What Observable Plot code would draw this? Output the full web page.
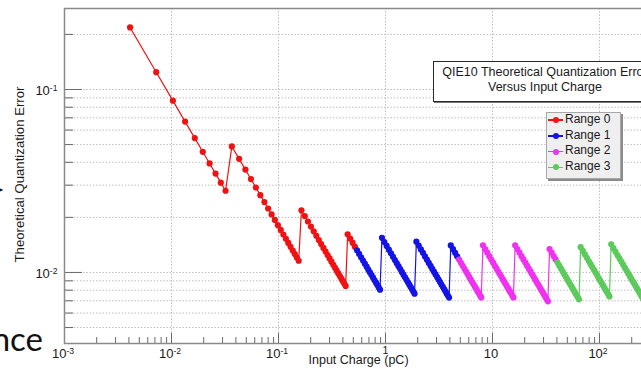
<!DOCTYPE html>
<html>
<head>
<meta charset="utf-8">
<script src="https://cdn.jsdelivr.net/npm/d3@7"></script>
<script src="https://cdn.jsdelivr.net/npm/@observablehq/plot@0.6"></script>
<style>
  html, body { margin: 0; padding: 0; overflow: hidden; background: #fff; width: 641px; height: 373px; }
  #wrap { position: relative; width: 641px; height: 373px; overflow: hidden; font-family: "Liberation Sans", Arial, sans-serif; }
  #chart { position: absolute; left: 0; top: 0; max-width: none !important; width: 726px; height: 373px; }
  .titlebox { position: absolute; left: 433px; top: 61px; width: 222px; padding: 3px 0 6px 0; border: 1px solid #2a2a2a; background: #fff; text-align: center; font-size: 12.5px; line-height: 15px; color: #1a1a1a; white-space: nowrap; box-shadow: 1px 1px 0 #777; }
  .legend { position: absolute; left: 546px; top: 112px; width: 73px; height: 65px; border: 1px solid #a8a8a8; background: #efefef; box-shadow: 2px 2px 0 #8c8c8c; }
  .legend .row { position: absolute; left: 0; height: 14px; width: 73px; }
  .legend .ln { position: absolute; left: 1px; width: 15px; height: 1.5px; }
  .legend .dt { position: absolute; left: 6px; width: 6px; height: 6px; border-radius: 50%; }
  .legend .lb { position: absolute; left: 18px; font-size: 12px; line-height: 14px; color: #1a1a1a; white-space: nowrap; }
  .slide { position: absolute; font-family: Lato, "Open Sans", sans-serif; color: #111; white-space: nowrap; }
</style>
</head>
<body>
<div id="wrap"></div>
<script>
// ---- Data ----
const rangeNames = ["Range 0", "Range 1", "Range 2", "Range 3"];
const rangeColors = ["#f01212", "#1414e6", "#f032f0", "#5cca5c"];

// Range 0 (red): input charge in pC and theoretical quantization error
const range0Charge = [
  0.0041, 0.0072, 0.0103, 0.0134, 0.0165, 0.0196, 0.0227, 0.0258, 0.0289, 0.0320,
  0.03665, 0.04285, 0.04905, 0.05525, 0.06145, 0.06765, 0.07385, 0.08005, 0.08625, 0.09245,
  0.09865, 0.10485, 0.11105, 0.11725, 0.12345, 0.12965, 0.13585, 0.14205, 0.14825, 0.15445,
  0.16375, 0.17615, 0.18855, 0.20095, 0.21335, 0.22575, 0.23815, 0.25055, 0.26295, 0.27535, 0.28775,
  0.30015, 0.31255, 0.32495, 0.33735, 0.34975, 0.36215, 0.37455, 0.38695, 0.39935, 0.41175, 0.42415,
  0.44275, 0.46755, 0.49235, 0.51715
];
const range0Error = [
  0.2183, 0.1243, 0.08688, 0.06678, 0.05424, 0.04566, 0.03942, 0.03469, 0.03097, 0.02797,
  0.04883, 0.04177, 0.03649, 0.03239, 0.02913, 0.02646, 0.02424, 0.02236, 0.02075, 0.01936,
  0.01814, 0.01707, 0.01612, 0.01526, 0.01450, 0.01380, 0.01317, 0.01260, 0.01207, 0.01159,
  0.02186, 0.02032, 0.01899, 0.01781, 0.01678, 0.01586, 0.01503, 0.01429, 0.01361, 0.01300, 0.01244,
  0.01193, 0.01145, 0.01102, 0.01061, 0.01023, 0.00988, 0.00956, 0.00925, 0.00896, 0.00869, 0.00844,
  0.01617, 0.01531, 0.01454, 0.01384
];

// Range 1 (blue)
const range1Charge = [
  0.54195, 0.56675, 0.59155, 0.61635, 0.64115, 0.66595, 0.69075, 0.71555, 0.74035, 0.76515,
  0.78995, 0.81475, 0.83955, 0.86435, 0.88915,
  0.92635, 0.97595, 1.02555, 1.07515, 1.12475, 1.17435, 1.22395, 1.27355, 1.32315, 1.37275,
  1.42235, 1.47195, 1.52155, 1.57115, 1.62075, 1.67035, 1.71995, 1.76955, 1.81915, 1.86875,
  1.94315, 2.04235, 2.14155, 2.24075, 2.33995, 2.43915, 2.53835, 2.63755, 2.73675, 2.83595, 2.93515,
  3.03435, 3.13355, 3.23275, 3.33195, 3.43115, 3.53035, 3.62955, 3.72875, 3.82795, 3.92715,
  4.07595, 4.27435, 4.47275, 4.67115
];
const range1Error = [
  0.01321, 0.01263, 0.01210, 0.01162, 0.01117, 0.01075, 0.01036, 0.01001, 0.00967, 0.00936,
  0.00906, 0.00879, 0.00853, 0.00828, 0.00805,
  0.01546, 0.01467, 0.01396, 0.01332, 0.01273, 0.01219, 0.01170, 0.01124, 0.01082, 0.01043,
  0.01007, 0.00973, 0.00941, 0.00911, 0.00883, 0.00857, 0.00832, 0.00809, 0.00787, 0.00766,
  0.01474, 0.01402, 0.01337, 0.01278, 0.01224, 0.01174, 0.01128, 0.01086, 0.01046, 0.01010, 0.00976,
  0.00944, 0.00914, 0.00886, 0.00859, 0.00835, 0.00811, 0.00789, 0.00768, 0.00748, 0.00729,
  0.01405, 0.01340, 0.01281, 0.01226
];

// Range 2 (magenta)
const range2Charge = [
  4.86955, 5.06795, 5.26635, 5.46475, 5.66315, 5.86155, 6.05995, 6.25835, 6.45675, 6.65515,
  6.85355, 7.05195, 7.25035, 7.44875, 7.64715, 7.84555,
  8.14315, 8.53995, 8.93675, 9.33355, 9.73035, 10.12715, 10.52395, 10.92075, 11.31755, 11.71435,
  12.11115, 12.50795, 12.90475, 13.30155, 13.69835, 14.09515, 14.49195, 14.88875, 15.28555, 15.68235,
  16.27755, 17.07115, 17.86475, 18.65835, 19.45195, 20.24555, 21.03915, 21.83275, 22.62635, 23.41995, 24.21355,
  25.00715, 25.80075, 26.59435, 27.38795, 28.18155, 28.97515, 29.76875, 30.56235, 31.35595, 32.14955, 32.94315,
  34.13355, 35.72075, 37.30795, 38.89515
];
const range2Error = [
  0.01176, 0.01130, 0.01088, 0.01048, 0.01011, 0.00977, 0.00945, 0.00915, 0.00887, 0.00861,
  0.00836, 0.00812, 0.00790, 0.00769, 0.00749, 0.00730,
  0.01407, 0.01341, 0.01282, 0.01227, 0.01177, 0.01131, 0.01088, 0.01049, 0.01012, 0.00978,
  0.00946, 0.00916, 0.00888, 0.00861, 0.00836, 0.00813, 0.00790, 0.00769, 0.00749, 0.00730,
  0.01407, 0.01342, 0.01282, 0.01228, 0.01178, 0.01132, 0.01089, 0.01049, 0.01013, 0.00978, 0.00946,
  0.00916, 0.00888, 0.00861, 0.00837, 0.00813, 0.00791, 0.00770, 0.00750, 0.00731, 0.00713, 0.00695,
  0.01342, 0.01283, 0.01228, 0.01178
];

// Range 3 (green)
const range3Charge = [
  40.48235, 42.06955, 43.65675, 45.24395, 46.83115, 48.41835, 50.00555, 51.59275, 53.17995, 54.76715,
  56.35435, 57.94155, 59.52875, 61.11595, 62.70315, 64.29035,
  66.67155, 69.84595, 73.02035, 76.19475, 79.36915, 82.54355, 85.71795, 88.89235, 92.06675, 95.24115,
  98.41555, 101.58995, 104.76435, 107.93875, 111.11315, 114.28755, 117.46195, 120.63635, 123.81075,
  128.57315, 134.92195, 141.27075, 147.61955, 153.96835, 160.31715, 166.66595, 173.01475, 179.36355,
  185.71235, 192.06115, 198.40995, 204.75875, 211.10755, 217.45635, 223.80515, 230.15395, 236.50275,
  242.85155, 249.20035, 255.54915
];
const range3Error = [
  0.01132, 0.01089, 0.01050, 0.01013, 0.00978, 0.00946, 0.00916, 0.00888, 0.00862, 0.00837,
  0.00813, 0.00791, 0.00770, 0.00750, 0.00731, 0.00713,
  0.01374, 0.01312, 0.01255, 0.01203, 0.01155, 0.01110, 0.01069, 0.01031, 0.00995, 0.00962,
  0.00931, 0.00902, 0.00875, 0.00849, 0.00825, 0.00802, 0.00780, 0.00760, 0.00740,
  0.01426, 0.01358, 0.01297, 0.01242, 0.01190, 0.01143, 0.01100, 0.01059, 0.01022,
  0.00987, 0.00954, 0.00924, 0.00895, 0.00868, 0.00843, 0.00819, 0.00796, 0.00775,
  0.00755, 0.00735, 0.00717
];

// Axes
const xDomain = [1e-3, 1e3];
const yDomain = [0.00409, 0.2771];
const xMajorTicks = [1e-3, 1e-2, 1e-1, 1, 10, 100, 1000];
const xLabelTicks = [1e-3, 1e-2, 1e-1, 1, 10, 100];
const xTickLabels = ["10^-3", "10^-2", "10^-1", "1", "10", "10^2"];
const xMinorTicks = [
  2e-3, 3e-3, 4e-3, 5e-3, 6e-3, 7e-3, 8e-3, 9e-3,
  2e-2, 3e-2, 4e-2, 5e-2, 6e-2, 7e-2, 8e-2, 9e-2,
  0.2, 0.3, 0.4, 0.5, 0.6, 0.7, 0.8, 0.9,
  2, 3, 4, 5, 6, 7, 8, 9,
  20, 30, 40, 50, 60, 70, 80, 90,
  200, 300, 400, 500, 600, 700, 800, 900
];
const yMajorTicks = [0.1, 0.01];
const yTickLabels = ["10^-1", "10^-2"];
const yMinorTicks = [0.005, 0.006, 0.007, 0.008, 0.009, 0.02, 0.03, 0.04, 0.05, 0.06, 0.07, 0.08, 0.09, 0.2];
const xTitle = "Input Charge (pC)";
const yTitle = "Theoretical Quantization Error";
const titleLines = ["QIE10 Theoretical Quantization Error", "Versus Input Charge"];

// ---- Build table ----
const seriesData = [
  [range0Charge, range0Error],
  [range1Charge, range1Error],
  [range2Charge, range2Error],
  [range3Charge, range3Error]
];
const rows = seriesData.flatMap(([c, e], i) => c.map((q, j) => ({range: rangeNames[i], q, err: e[j]})));
const xLabelRows = xLabelTicks.map((v, i) => ({v, label: xTickLabels[i]}));
const yLabelRows = yMajorTicks.map((v, i) => ({v, label: yTickLabels[i]}));
const gridStyle = {stroke: "#c2c2c2", strokeDasharray: "1.6,1.6", strokeWidth: 1};

const chart = Plot.plot({
  width: 726,
  height: 373,
  marginLeft: 64,
  marginRight: 20,
  marginTop: 8,
  marginBottom: 30,
  x: {type: "log", domain: xDomain, axis: null},
  y: {type: "log", domain: yDomain, axis: null},
  color: {domain: rangeNames, range: rangeColors},
  style: {fontFamily: "'Liberation Sans', Arial, sans-serif", background: "#fff", color: "#1a1a1a", maxWidth: "none"},
  marks: [
    Plot.ruleY(yMinorTicks.concat(yMajorTicks), {y: d => d, ...gridStyle}),
    Plot.ruleX(xMajorTicks, {x: d => d, ...gridStyle}),
    Plot.tickX(xMinorTicks, {x: d => d, stroke: "#6a6a6a", insetTop: 329}),
    Plot.tickX(xMajorTicks, {x: d => d, stroke: "#6a6a6a", insetTop: 325}),
    Plot.tickY(yMinorTicks, {y: d => d, stroke: "#6a6a6a", insetRight: 633}),
    Plot.tickY(yMajorTicks, {y: d => d, stroke: "#6a6a6a", insetRight: 624}),
    Plot.line(rows, {x: "q", y: "err", z: "range", stroke: "range", strokeWidth: 1.2}),
    Plot.dot(rows, {x: "q", y: "err", fill: "range", r: 3.1, stroke: "none"}),
    Plot.frame({stroke: "#8a8a8a", strokeWidth: 1.5}),
    Plot.text(xLabelRows.filter(d => d.label !== "1"), {x: "v", text: "label", frameAnchor: "bottom", dy: 14.5, dx: -1.5, fontSize: 13, fill: "#1a1a1a"}),
    Plot.text(xLabelRows.filter(d => d.label === "1"), {x: "v", text: "label", frameAnchor: "bottom", dy: 10, dx: 0, fontSize: 10.5, fill: "#1a1a1a"}),
    Plot.text(yLabelRows, {y: "v", text: "label", frameAnchor: "left", dx: -7, dy: 1.5, textAnchor: "end", fontSize: 13, fill: "#1a1a1a"}),
    Plot.text([xTitle], {text: d => d, frameAnchor: "bottom-left", dx: 244, dy: 20, textAnchor: "start", fontSize: 12.5, fill: "#1a1a1a"}),
    Plot.text([yTitle], {text: d => d, frameAnchor: "left", dx: -45, dy: -1.5, rotate: -90, textAnchor: "middle", fontSize: 13.2, fill: "#1a1a1a"})
  ]
});

// superscript exponents (10^-3 -> 10 with raised "-3")
d3.select(chart).selectAll("text").each(function () {
  const m = /^10\^(.+)$/.exec(this.textContent);
  if (m) {
    const s = d3.select(this);
    s.text("10");
    s.append("tspan").attr("dy", "-0.48em").attr("font-size", "0.66em").text(m[1]);
  }
});

const wrap = document.getElementById("wrap");
chart.id = "chart";
chart.style.maxWidth = "none";
chart.style.width = "726px";
chart.style.height = "373px";
wrap.appendChild(chart);

// title box (ROOT TPaveText)
const tb = document.createElement("div");
tb.className = "titlebox";
tb.innerHTML = titleLines.map(t => `<div>${t}</div>`).join("");
wrap.appendChild(tb);

// legend (ROOT TLegend)
const lg = document.createElement("div");
lg.className = "legend";
rangeNames.forEach((name, i) => {
  const row = document.createElement("div");
  row.className = "row";
  row.style.top = (i * 15.8) + "px";
  row.innerHTML = `<div class="ln" style="top:6.3px;background:${rangeColors[i]}"></div>` +
    `<div class="dt" style="top:4px;background:${rangeColors[i]}"></div>` +
    `<div class="lb" style="top:-1.2px">${name}</div>`;
  lg.appendChild(row);
});
wrap.appendChild(lg);

// slide fragments around the screenshot
const nce = document.createElement("div");
nce.className = "slide";
nce.style.cssText = "right:598px;top:318px;font-size:33px;line-height:40px;";
nce.textContent = "nce";
wrap.appendChild(nce);
const arr = document.createElement("div");
arr.className = "slide";
arr.style.cssText = "left:-7px;top:182px;font-size:13px;line-height:16px;font-family:'DejaVu Sans';";
arr.textContent = "➤";
wrap.appendChild(arr);
</script>
</body>
</html>
